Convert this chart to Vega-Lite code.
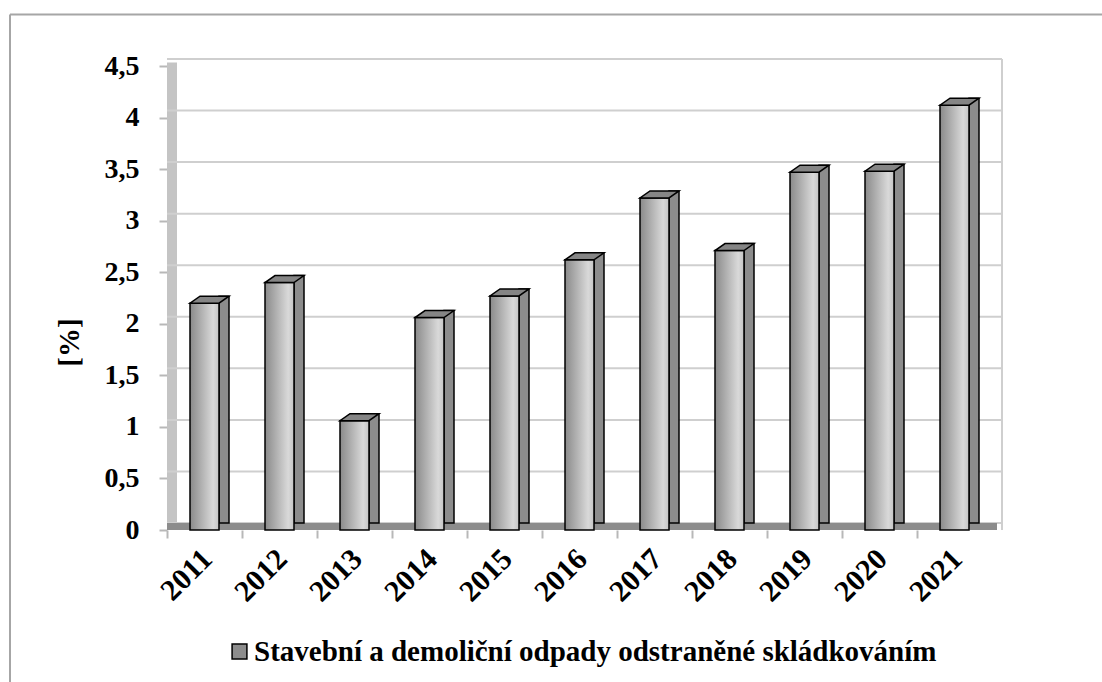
{
  "$schema": "https://vega.github.io/schema/vega-lite/v6.json",
  "width": 825,
  "height": 464,
  "autosize": {"type": "none"},
  "padding": {"left": 167, "top": 66, "right": 110, "bottom": 152},
  "background": "white",
  "config": {
    "view": {"stroke": null},
    "font": "Liberation Serif"
  },
  "data": {
    "values": [
      {"year": "2011", "value": 2.2, "series": "Stavební a demoliční odpady odstraněné skládkováním"},
      {"year": "2012", "value": 2.4, "series": "Stavební a demoliční odpady odstraněné skládkováním"},
      {"year": "2013", "value": 1.06, "series": "Stavební a demoliční odpady odstraněné skládkováním"},
      {"year": "2014", "value": 2.06, "series": "Stavební a demoliční odpady odstraněné skládkováním"},
      {"year": "2015", "value": 2.27, "series": "Stavební a demoliční odpady odstraněné skládkováním"},
      {"year": "2016", "value": 2.62, "series": "Stavební a demoliční odpady odstraněné skládkováním"},
      {"year": "2017", "value": 3.22, "series": "Stavební a demoliční odpady odstraněné skládkováním"},
      {"year": "2018", "value": 2.71, "series": "Stavební a demoliční odpady odstraněné skládkováním"},
      {"year": "2019", "value": 3.47, "series": "Stavební a demoliční odpady odstraněné skládkováním"},
      {"year": "2020", "value": 3.48, "series": "Stavební a demoliční odpady odstraněné skládkováním"},
      {"year": "2021", "value": 4.12, "series": "Stavební a demoliční odpady odstraněné skládkováním"}
    ]
  },
  "layer": [
    {
      "data": {"values": [{"k": 1}]},
      "mark": {"type": "rule", "color": "#a6a6a6", "strokeWidth": 2, "xOffset": -157, "x2Offset": 110},
      "encoding": {
        "x": {"datum": "2011", "type": "nominal", "bandPosition": 0},
        "x2": {"datum": "2021", "bandPosition": 1},
        "y": {"datum": 5, "type": "quantitative"}
      }
    },
    {
      "data": {"values": [{"k": 1}]},
      "mark": {"type": "rule", "color": "#a6a6a6", "strokeWidth": 2, "xOffset": -157},
      "encoding": {
        "x": {"datum": "2011", "type": "nominal", "bandPosition": 0},
        "y": {"datum": 5, "type": "quantitative"},
        "y2": {"datum": -1.7}
      }
    },
    {
      "data": {"values": [{"k": 1}]},
      "mark": {"type": "rule", "color": "#c4c4c4", "strokeWidth": 10, "xOffset": 5, "yOffset": -3.5, "y2Offset": -3.5},
      "encoding": {
        "x": {"datum": "2011", "type": "nominal", "bandPosition": 0}
      }
    },
    {
      "data": {"values": [{"g": 0}, {"g": 0.5}, {"g": 1}, {"g": 1.5}, {"g": 2}, {"g": 2.5}, {"g": 3}, {"g": 3.5}, {"g": 4}, {"g": 4.5}]},
      "mark": {"type": "rule", "color": "#cfcfcf", "strokeWidth": 2, "xOffset": 10, "x2Offset": 10, "yOffset": -7},
      "encoding": {
        "y": {"field": "g", "type": "quantitative"}
      }
    },
    {
      "data": {"values": [{"k": 1}]},
      "mark": {"type": "rule", "color": "#cfcfcf", "strokeWidth": 2, "xOffset": 10, "yOffset": -7, "y2Offset": -7},
      "encoding": {
        "x": {"datum": "2021", "type": "nominal", "bandPosition": 1}
      }
    },
    {
      "data": {"values": [{"k": 1}]},
      "mark": {"type": "rule", "color": "#8c8c8c", "strokeWidth": 7, "xOffset": 5, "x2Offset": 5, "yOffset": -3.5},
      "encoding": {
        "y": {"datum": 0, "type": "quantitative"}
      }
    },
    {
      "mark": {"type": "bar", "width": 10, "xOffset": 19.5, "yOffset": -7, "y2Offset": 0, "stroke": "black", "strokeWidth": 1.5},
      "encoding": {
        "x": {"field": "year", "type": "nominal"},
        "y": {"field": "value", "type": "quantitative"},
        "color": {
          "field": "series",
          "type": "nominal",
          "scale": {"range": ["#8c8c8c"]},
          "legend": {
            "orient": "none",
            "legendX": 58,
            "legendY": 571,
            "direction": "horizontal",
            "title": null,
            "symbolType": "square",
            "symbolSize": 220,
            "symbolStrokeColor": "black",
            "symbolStrokeWidth": 1.5,
            "labelFont": "Liberation Serif",
            "labelFontWeight": "bold",
            "labelFontSize": 29,
            "labelColor": "black",
            "labelOffset": 0,
            "labelLimit": 1000,
            "encode": {
              "symbols": {
                "update": {
                  "fill": {"value": {"gradient": "linear", "x1": 0, "y1": 0, "x2": 1, "y2": 0, "stops": [{"offset": 0, "color": "#808080"}, {"offset": 1, "color": "#dcdcdc"}]}},
                  "stroke": {"value": "black"}
                }
              }
            }
          }
        }
      }
    },
    {
      "mark": {
        "type": "bar",
        "width": 29,
        "stroke": "black",
        "strokeWidth": 1.5,
        "fill": {"gradient": "linear", "x1": 0, "y1": 0, "x2": 1, "y2": 0, "stops": [{"offset": 0, "color": "#8a8a8a"}, {"offset": 0.8, "color": "#d9d9d9"}, {"offset": 1, "color": "#c4c4c4"}]}
      },
      "encoding": {
        "x": {
          "field": "year",
          "type": "nominal",
          "title": null,
          "scale": {"paddingInner": 0, "paddingOuter": 0},
          "axis": {
            "bandPosition": 0,
            "domain": false,
            "grid": false,
            "ticks": true,
            "tickSize": 8,
            "tickWidth": 2,
            "tickColor": "#b8b8b8",
            "labelAngle": -45,
            "labelAlign": "right",
            "labelBaseline": "middle",
            "labelOffset": 3,
            "labelPadding": 16,
            "labelFont": "Liberation Serif",
            "labelFontWeight": "bold",
            "labelFontSize": 30,
            "labelColor": "black"
          }
        },
        "y": {
          "field": "value",
          "type": "quantitative",
          "title": "[%]",
          "scale": {"domain": [0, 4.5], "nice": false},
          "axis": {
            "values": [0, 0.5, 1, 1.5, 2, 2.5, 3, 3.5, 4, 4.5],
            "domain": false,
            "grid": false,
            "tickSize": 8,
            "tickWidth": 2,
            "tickColor": "#b8b8b8",
            "labelPadding": 20,
            "labelFont": "Liberation Serif",
            "labelFontWeight": "bold",
            "labelFontSize": 28,
            "labelColor": "black",
            "labelExpr": "replace(format(datum.value, '.1~f'), '.', ',')",
            "titleFont": "Liberation Serif",
            "titleFontWeight": "bold",
            "titleFontSize": 29,
            "titleColor": "black",
            "titleX": -83,
            "titleY": 276,
            "titleAngle": -90,
            "titleAlign": "center",
            "titleBaseline": "bottom"
          }
        }
      }
    },
    {
      "mark": {"type": "point", "shape": "M-1.45,0L1.45,0L2.45,-0.7L-0.45,-0.7Z", "size": 400, "filled": true, "fill": "#858585", "stroke": "black", "strokeWidth": 1.5, "opacity": 1},
      "encoding": {
        "x": {"field": "year", "type": "nominal"},
        "y": {"field": "value", "type": "quantitative"}
      }
    }
  ]
}
